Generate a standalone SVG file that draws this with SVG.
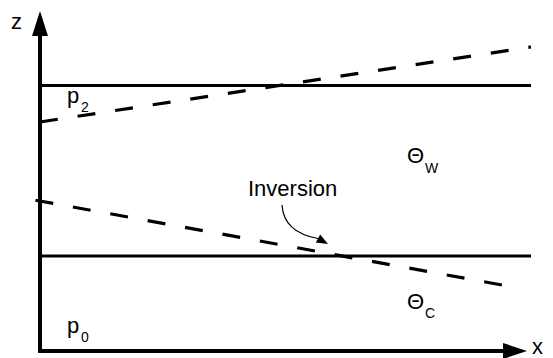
<svg xmlns="http://www.w3.org/2000/svg" width="553" height="358" viewBox="0 0 553 358">
<style>
.t{font-family:"Liberation Sans",Arial,sans-serif;font-size:22px;fill:#000}
.s{font-family:"Liberation Sans",Arial,sans-serif;font-size:14px;fill:#000}
.solid{stroke:#000;stroke-width:3;fill:none}
.dash{stroke:#000;stroke-width:3.2;fill:none;stroke-dasharray:18 20}
.axis{stroke:#000;stroke-width:4;fill:none}
</style>
<rect width="553" height="358" fill="#fff"/>
<g id="connectors">
<line class="solid" x1="40" y1="85.5" x2="531" y2="85.5"/>
<line class="solid" x1="40" y1="256" x2="531" y2="256"/>
<line class="dash" x1="40" y1="122" x2="531" y2="47"/>
<line class="dash" x1="35.5" y1="200.2" x2="514" y2="287.2"/>
<path d="M282,205 C283,222 293,234 318,238.5" stroke="#000" stroke-width="1.2" fill="none"/>
<polygon points="328,244 320.2,234.6 315.8,242.4" fill="#000"/>
</g>
<g id="axes">
<line class="axis" x1="40" y1="352.5" x2="40" y2="30"/>
<polygon points="40,11 32,36 48,36" fill="#000"/>
<line class="axis" x1="38" y1="351" x2="508" y2="351"/>
<polygon points="527,351 503,343 503,359" fill="#000"/>
<text class="t" x="11" y="28.5">z</text>
<text class="t" x="532" y="354" font-size="20">x</text>
</g>
<g id="p2"><text class="t" x="67" y="103">p</text><text class="s" x="81" y="112">2</text></g>
<g id="p0"><text class="t" x="67" y="333">p</text><text class="s" x="81" y="342">0</text></g>
<g id="thetaW"><text class="t" x="407" y="163">Θ</text><text class="s" x="425" y="173">W</text></g>
<g id="thetaC"><text class="t" x="407" y="309">Θ</text><text class="s" x="425" y="318">C</text></g>
<g id="inversion"><text class="t" x="248" y="195.5">Inversion</text></g>
</svg>
